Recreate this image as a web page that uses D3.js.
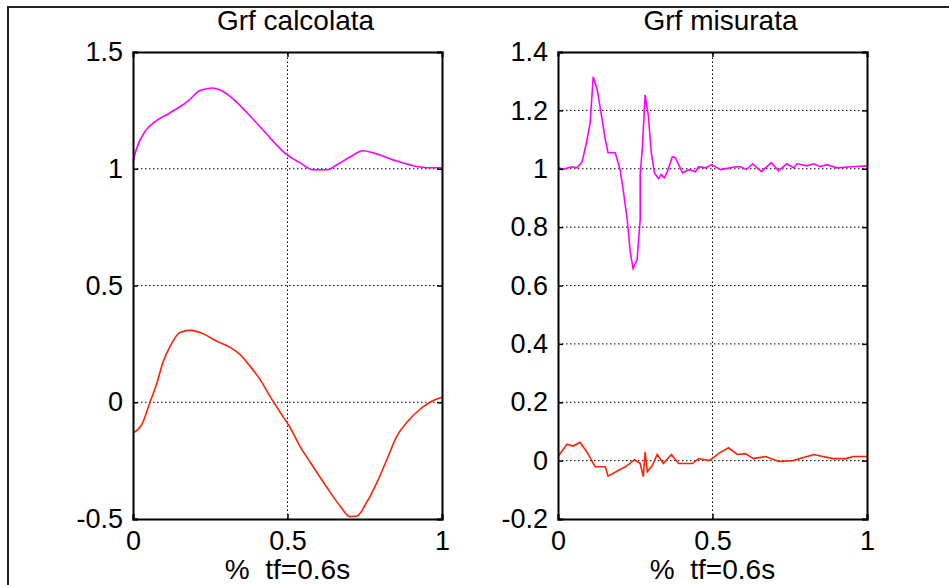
<!DOCTYPE html>
<html>
<head>
<meta charset="utf-8">
<script src="https://cdn.jsdelivr.net/npm/d3@7"></script>
<style>
  body { margin: 0; background: #fff; }
  svg { display: block; font-family: "Liberation Sans", Arial, sans-serif; }
</style>
</head>
<body>
<div class="box"></div>
<script>
// Grf calcolata
const calcMagX = [0, 0.01, 0.039, 0.065, 0.12, 0.175, 0.217, 0.256, 0.28, 0.314, 0.369, 0.42, 0.466, 0.498, 0.54, 0.583, 0.628, 0.66, 0.702, 0.744, 0.777, 0.841, 0.906, 0.961, 1];
const calcMagY = [1.03, 1.08, 1.16, 1.195, 1.24, 1.286, 1.335, 1.346, 1.338, 1.31, 1.24, 1.167, 1.10, 1.06, 1.026, 0.996, 0.996, 1.017, 1.05, 1.077, 1.068, 1.038, 1.013, 1.004, 1.004];
const calcRedX = [0, 0.029, 0.055, 0.078, 0.097, 0.12, 0.152, 0.184, 0.217, 0.272, 0.314, 0.346, 0.379, 0.411, 0.443, 0.476, 0.508, 0.54, 0.573, 0.605, 0.638, 0.67, 0.702, 0.725, 0.757, 0.79, 0.822, 0.854, 0.887, 0.929, 0.961, 1];
const calcRedY = [-0.132, -0.094, 0.0, 0.085, 0.171, 0.239, 0.299, 0.308, 0.299, 0.261, 0.235, 0.205, 0.154, 0.098, 0.026, -0.043, -0.107, -0.188, -0.256, -0.32, -0.385, -0.444, -0.49, -0.487, -0.427, -0.342, -0.244, -0.145, -0.085, -0.03, 0.0, 0.021];

// Grf misurata
const misMagX = [0, 0.013, 0.045, 0.062, 0.078, 0.094, 0.104, 0.114, 0.127, 0.143, 0.153, 0.162, 0.185, 0.201, 0.211, 0.224, 0.234, 0.243, 0.256, 0.266, 0.266, 0.273, 0.282, 0.292, 0.302, 0.312, 0.325, 0.334, 0.344, 0.354, 0.37, 0.38, 0.403, 0.425, 0.445, 0.455, 0.477, 0.497, 0.526, 0.575, 0.591, 0.61, 0.63, 0.658, 0.69, 0.714, 0.74, 0.763, 0.773, 0.805, 0.828, 0.847, 0.87, 0.903, 0.951, 1];
const misMagY = [1.007, 0.997, 1.007, 1.003, 1.024, 1.099, 1.157, 1.315, 1.27, 1.168, 1.10, 1.055, 1.055, 0.997, 0.928, 0.826, 0.713, 0.658, 0.689, 0.826, 0.98, 1.072, 1.253, 1.185, 1.055, 0.986, 0.966, 0.98, 0.969, 0.99, 1.041, 1.038, 0.986, 0.997, 0.99, 1.007, 1.003, 1.014, 0.997, 1.007, 1.007, 0.997, 1.017, 0.99, 1.021, 0.993, 1.017, 1.003, 1.017, 1.01, 1.017, 1.007, 1.014, 1.003, 1.007, 1.01];
const misRedX = [0, 0.029, 0.049, 0.071, 0.094, 0.12, 0.153, 0.162, 0.195, 0.224, 0.247, 0.266, 0.276, 0.282, 0.289, 0.305, 0.321, 0.341, 0.367, 0.39, 0.435, 0.455, 0.487, 0.5, 0.519, 0.552, 0.58, 0.606, 0.633, 0.672, 0.714, 0.76, 0.792, 0.828, 0.857, 0.89, 0.932, 0.955, 1];
const misRedY = [0.014, 0.056, 0.05, 0.063, 0.029, -0.021, -0.021, -0.053, -0.034, -0.017, 0.003, -0.01, -0.055, 0.03, -0.038, -0.017, 0.021, -0.01, 0.021, -0.01, -0.01, 0.007, 0, 0.007, 0.024, 0.044, 0.021, 0.024, 0.007, 0.014, -0.003, 0, 0.01, 0.021, 0.014, 0.007, 0.007, 0.014, 0.014];

const xTicks = [0, 0.5, 1];
const calcTicks = [-0.5, 0, 0.5, 1, 1.5];
const misTicks = [-0.2, 0, 0.2, 0.4, 0.6, 0.8, 1, 1.2, 1.4];

const panels = [
  {title: 'Grf calcolata', left: 133, domain: [-0.5, 1.5], ticks: calcTicks, curve: d3.curveMonotoneX,
   series: [{x: calcMagX, y: calcMagY, color: '#ff00ff'}, {x: calcRedX, y: calcRedY, color: '#ff2200'}]},
  {title: 'Grf misurata', left: 558, domain: [-0.2, 1.4], ticks: misTicks, curve: d3.curveLinear,
   series: [{x: misMagX, y: misMagY, color: '#ff00ff'}, {x: misRedX, y: misRedY, color: '#ff2200'}]}
];

const dims = {width: 949, height: 585, top: 52, bottom: 519, pw: 309};

const svg = d3.select('.box')
              .append('svg')
              .attr('width', dims.width)
              .attr('height', dims.height);

// cadre exterieur
svg.append('path')
   .attr('d', `M8,${dims.height} L8,7 L${dims.width},7`)
   .attr('fill', 'none')
   .attr('stroke', '#222')
   .attr('stroke-width', 2);

const fmt = d => String(d); // tiret simple, pas de signe moins unicode

panels.forEach(p => {
  const x = d3.scaleLinear().domain([0, 1]).range([p.left, p.left + dims.pw]);
  const y = d3.scaleLinear().domain(p.domain).range([dims.bottom, dims.top]);
  const g = svg.append('g');

  // grille pointillee
  g.selectAll('.gy')
   .data(p.ticks.slice(1, -1))
   .enter().append('line')
   .attr('x1', x(0)).attr('x2', x(1))
   .attr('y1', d => y(d)).attr('y2', d => y(d))
   .attr('stroke', '#000').attr('stroke-width', 1).attr('stroke-dasharray', '1.5,2.5');
  g.selectAll('.gx')
   .data(xTicks.slice(1, -1))
   .enter().append('line')
   .attr('x1', d => x(d)).attr('x2', d => x(d))
   .attr('y1', y.range()[0]).attr('y2', y.range()[1])
   .attr('stroke', '#000').attr('stroke-width', 1).attr('stroke-dasharray', '1.5,2.5');

  // courbes
  const line = d3.line().x(d => x(d[0])).y(d => y(d[1])).curve(p.curve);
  p.series.forEach(s => {
    g.append('path')
     .datum(s.x.map((v, i) => [v, s.y[i]]))
     .attr('d', line)
     .attr('fill', 'none')
     .attr('stroke', s.color)
     .attr('stroke-width', 1.6);
  });

  // axes (ticks vers l'interieur)
  const yl = g.append('g').attr('transform', `translate(${x(0)},0)`)
              .call(d3.axisLeft(y).tickValues(p.ticks).tickSize(-5).tickPadding(10).tickFormat(fmt));
  const yr = g.append('g').attr('transform', `translate(${x(1)},0)`)
              .call(d3.axisRight(y).tickValues(p.ticks).tickSize(-5).tickFormat(''));
  const xb = g.append('g').attr('transform', `translate(0,${y.range()[0]})`)
              .call(d3.axisBottom(x).tickValues(xTicks).tickSize(-5).tickPadding(12).tickFormat(fmt));
  const xt = g.append('g').attr('transform', `translate(0,${y.range()[1]})`)
              .call(d3.axisTop(x).tickValues(xTicks).tickSize(-5).tickFormat(''));
  [yl, yr, xb, xt].forEach(a => {
    a.select('.domain').attr('stroke', '#000').attr('stroke-width', 2);
    a.selectAll('.tick line').attr('stroke', '#000').attr('stroke-width', 1.5);
    a.selectAll('text').attr('font-size', 27).attr('fill', '#000').attr('font-family', '"Liberation Sans", Arial, sans-serif');
  });

  // titres
  g.append('text')
   .attr('x', (x(0) + x(1)) / 2 + 8).attr('y', 30)
   .attr('text-anchor', 'middle')
   .attr('font-size', 28)
   .text(p.title);
  g.append('text')
   .attr('x', (x(0) + x(1)) / 2).attr('y', 579)
   .attr('text-anchor', 'middle')
   .attr('font-size', 28)
   .style('white-space', 'pre')
   .text('%  tf=0.6s');
});
</script>
</body>
</html>
